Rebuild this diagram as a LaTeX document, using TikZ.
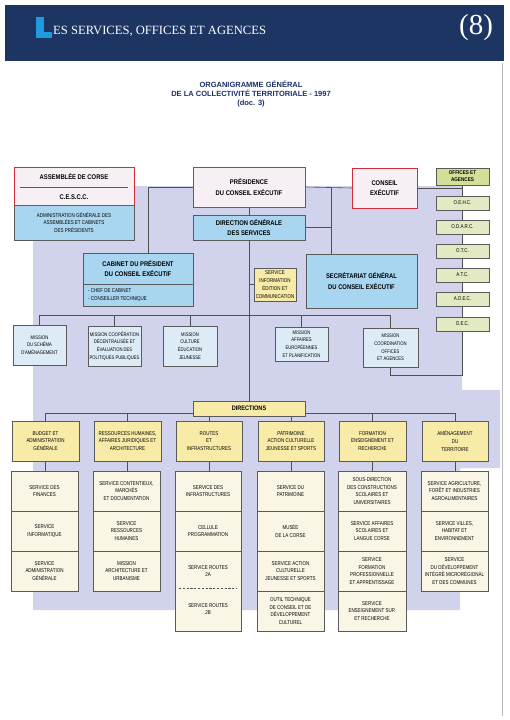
\documentclass[tikz,border=0pt]{standalone}
\usepackage{fontspec}
\setmainfont{Liberation Sans}
\newfontfamily\cond[FakeStretch=0.8]{Liberation Sans}
\newfontfamily\condb[FakeStretch=0.86]{Liberation Sans}
\newfontfamily\hserif{Liberation Serif}
\definecolor{navy}{HTML}{1C3563}
\definecolor{lblue}{HTML}{1D9BE0}
\definecolor{titlec}{HTML}{1B2F6B}
\definecolor{lav}{HTML}{D1D3EC}
\definecolor{redc}{HTML}{D42A3A}
\definecolor{pinkc}{HTML}{F6F0F5}
\definecolor{bluec}{HTML}{A8D5EF}
\definecolor{misc}{HTML}{DCEBF6}
\definecolor{yelc}{HTML}{F8EBA8}
\definecolor{creamc}{HTML}{FAF6E6}
\definecolor{greenc}{HTML}{E2EAC4}
\definecolor{greenh}{HTML}{D2DF98}
\definecolor{bordc}{HTML}{5A5A5A}
\definecolor{lnc}{HTML}{505050}
\newcommand\ftsmall{\cond\fontsize{5.6}{7.8}\selectfont}
\newcommand\ftmis{\cond\fontsize{5.2}{7.6}\selectfont}
\newcommand\ftbold{\condb\bfseries\fontsize{6.8}{10.5}\selectfont}
\newcommand\bx[7]{%
 \pgfmathsetmacro\bw{#5-#3}\pgfmathsetmacro\bh{#6-#4}%
 \pgfmathsetmacro\bcx{(#3+#5)/2}\pgfmathsetmacro\bcy{(#4+#6)/2}%
 \node[#1, minimum width=\bw pt, minimum height=\bh pt] (#2) at (\bcx,\bcy) {#7};}
\pgfdeclarelayer{lavl}
\pgfdeclarelayer{bg}
\pgfsetlayers{lavl,bg,main}
\begin{document}
\begin{tikzpicture}[x=1pt,y=-1pt,
  base/.style={inner sep=0pt, outer sep=0pt, align=center, line width=0.6pt, draw=bordc},
  redbox/.style={base, draw=redc, line width=0.9pt, fill=pinkc, font=\ftbold},
  bluebox/.style={base, fill=bluec, font=\ftbold},
  blues/.style={base, fill=bluec, font=\ftsmall},
  misbox/.style={base, fill=misc, font=\ftmis},
  yelbox/.style={base, fill=yelc, font=\ftsmall},
  dirsbox/.style={base, fill=yelc, font=\condb\bfseries\fontsize{6.5}{8}\selectfont},
  svcbox/.style={base, fill=creamc, line width=0.7pt, font=\ftsmall},
  offbox/.style={base, fill=greenc, font=\ftsmall},
  offhead/.style={base, fill=greenh, font=\condb\bfseries\fontsize{5.4}{7}\selectfont},
  txt/.style={inner sep=0pt, align=center},
  ln/.style={draw=lnc, line width=0.6pt}]
\begin{pgfonlayer}{lavl}
\useasboundingbox (0,0) rectangle (509,720);
\fill[white] (0,0) rectangle (509,720);
% lavender background
\fill[lav] (33,186) -- (462,186) -- (462,390) -- (500,390) -- (500,468) -- (460,468) -- (460,610) -- (33,610) -- cycle;
\end{pgfonlayer}
% header band
\fill[navy] (5,5) rectangle (504,61);
\fill[lblue] (36,17) rectangle (43.5,38);
\fill[lblue] (36,32) rectangle (52,38);
\node[anchor=base west, inner sep=0pt, text=white, font=\hserif\fontsize{12.6}{12.6}\selectfont] (htitle) at (53,34) {ES SERVICES, OFFICES ET AGENCES};
\node[inner sep=0pt, text=white, font=\hserif\fontsize{29}{29}\selectfont] (hnum) at (476,28) {(8)};
% page fold line
\draw[gray!55, line width=1pt] (502,63) -- (502,716);
% title
\node[txt, text=titlec, font=\bfseries\fontsize{7.5}{9}\selectfont] (title) at (251,94) {ORGANIGRAMME GÉNÉRAL\\DE LA COLLECTIVITÉ TERRITORIALE - 1997\\(doc. 3)};
% junction coordinates
\coordinate (sp) at (249,0);
\coordinate (cabj) at (148,0);
\coordinate (sgj) at (331,0);
\coordinate (mbar) at (0,315);
\coordinate (dbar) at (0,413);
% top boxes
\bx{blues}{adm}{14}{205}{134}{240}{ADMINISTRATION GÉNÉRALE DES\\ASSEMBLÉES ET CABINETS\\DES PRÉSIDENTS}
\bx{redbox}{asm}{14}{167}{134}{205}{}
\draw[bordc, line width=0.6pt] (20,187) -- (128,187);
\node[txt, font=\ftbold] (asmt) at (74,177) {ASSEMBLÉE DE CORSE};
\node[txt, font=\ftbold] (cescc) at (74,197) {C.E.S.C.C.};
\bx{redbox}{pres}{193}{167}{305}{207}{PRÉSIDENCE\\DU CONSEIL EXÉCUTIF}
\bx{bluebox}{dg}{193}{215}{305}{240}{DIRECTION GÉNÉRALE\\DES SERVICES}
\bx{redbox}{cons}{352}{168}{417}{208}{CONSEIL\\EXÉCUTIF}
\bx{bluebox}{cab}{83}{253}{193}{306}{}
\node[txt, font=\ftbold] (cabt) at (138,268.5) {CABINET DU PRÉSIDENT\\DU CONSEIL EXÉCUTIF};
\draw[bordc, line width=0.6pt] (83,284) -- (193,284);
\node[inner sep=0pt, align=left, anchor=west, font=\ftsmall] (cabb) at (88,295) {- CHEF DE CABINET\\- CONSEILLER TECHNIQUE};
\bx{yelbox}{svc}{254}{268}{296}{301}{SERVICE\\INFORMATION\\ÉDITION ET\\COMMUNICATION}
\bx{bluebox}{sec}{306}{254}{417}{308}{SECRÉTARIAT GÉNÉRAL\\DU CONSEIL EXÉCUTIF}
% offices
\bx{offhead}{o0}{436}{168}{489}{185}{OFFICES ET\\AGENCES}
\bx{offbox}{o1}{436}{196}{489}{210}{O.E.H.C.}
\bx{offbox}{o2}{436}{220}{489}{234}{O.D.A.R.C.}
\bx{offbox}{o3}{436}{244}{489}{258}{O.T.C.}
\bx{offbox}{o4}{436}{268}{489}{282}{A.T.C.}
\bx{offbox}{o5}{436}{292}{489}{306}{A.D.E.C.}
\bx{offbox}{o6}{436}{317}{489}{331}{O.E.C.}
% missions
\bx{misbox}{m1}{13}{325}{66}{365}{MISSION\\DU SCHÉMA\\D'AMÉNAGEMENT}
\bx{misbox}{m2}{88}{326}{141}{366}{MISSION COOPÉRATION\\DÉCENTRALISÉE ET\\ÉVALUATION DES\\POLITIQUES PUBLIQUES}
\bx{misbox}{m3}{163}{326}{217}{366}{MISSION\\CULTURE\\ÉDUCATION\\JEUNESSE}
\bx{misbox}{m4}{275}{327}{328}{361}{MISSION\\AFFAIRES\\EUROPÉENNES\\ET PLANIFICATION}
\bx{misbox}{m5}{363}{328}{418}{367}{MISSION\\COORDINATION\\OFFICES\\ET AGENCES}
% directions
\bx{dirsbox}{dirs}{193}{401}{305}{416}{DIRECTIONS}
\bx{yelbox}{d1}{12}{421}{79}{461}{BUDGET ET\\ADMINISTRATION\\GÉNÉRALE}
\bx{yelbox}{d2}{94}{421}{161}{461}{RESSOURCES HUMAINES,\\AFFAIRES JURIDIQUES ET\\ARCHITECTURE}
\bx{yelbox}{d3}{176}{421}{242}{461}{ROUTES\\ET\\INFRASTRUCTURES}
\bx{yelbox}{d4}{258}{421}{324}{461}{PATRIMOINE\\ACTION CULTURELLE\\JEUNESSE ET SPORTS}
\bx{yelbox}{d5}{339}{421}{406}{461}{FORMATION\\ENSEIGNEMENT ET\\RECHERCHE}
\bx{yelbox}{d6}{422}{421}{488}{461}{AMÉNAGEMENT\\DU\\TERRITOIRE}
% services
\bx{svcbox}{s11}{11}{471}{78}{511}{SERVICE DES\\FINANCES}
\bx{svcbox}{s12}{11}{511}{78}{551}{SERVICE\\INFORMATIQUE}
\bx{svcbox}{s13}{11}{551}{78}{591}{SERVICE\\ADMINISTRATION\\GÉNÉRALE}
\bx{svcbox}{s21}{93}{471}{160}{511}{SERVICE CONTENTIEUX,\\MARCHÉS\\ET DOCUMENTATION}
\bx{svcbox}{s22}{93}{511}{160}{551}{SERVICE\\RESSOURCES\\HUMAINES}
\bx{svcbox}{s23}{93}{551}{160}{591}{MISSION\\ARCHITECTURE ET\\URBANISME}
\bx{svcbox}{s31}{175}{471}{241}{511}{SERVICE DES\\INFRASTRUCTURES}
\bx{svcbox}{s32}{175}{511}{241}{551}{CELLULE\\PROGRAMMATION}
\bx{svcbox}{s33}{175}{551}{241}{631}{}
\node[txt, font=\ftsmall] (s33a) at (208,571) {SERVICE ROUTES\\2A};
\draw[lnc, line width=0.9pt, dash pattern=on 2.2pt off 1.6pt] (179,588) -- (237,588);
\node[txt, font=\ftsmall] (s33b) at (208,609) {SERVICE ROUTES\\2B};
\bx{svcbox}{s41}{257}{471}{324}{511}{SERVICE DU\\PATRIMOINE}
\bx{svcbox}{s42}{257}{511}{324}{551}{MUSÉE\\DE LA CORSE}
\bx{svcbox}{s43}{257}{551}{324}{591}{SERVICE ACTION\\CULTURELLE\\JEUNESSE ET SPORTS}
\bx{svcbox}{s44}{257}{591}{324}{631}{OUTIL TECHNIQUE\\DE CONSEIL ET DE\\DÉVELOPPEMENT\\CULTUREL}
\bx{svcbox}{s51}{338}{471}{406}{511}{SOUS-DIRECTION\\DES CONSTRUCTIONS\\SCOLAIRES ET\\UNIVERSITAIRES}
\bx{svcbox}{s52}{338}{511}{406}{551}{SERVICE AFFAIRES\\SCOLAIRES ET\\LANGUE CORSE}
\bx{svcbox}{s53}{338}{551}{406}{591}{SERVICE\\FORMATION\\PROFESSIONNELLE\\ET APPRENTISSAGE}
\bx{svcbox}{s54}{338}{591}{406}{631}{SERVICE\\ENSEIGNEMENT SUP.\\ET RECHERCHE}
\bx{svcbox}{s61}{421}{471}{488}{511}{SERVICE AGRICULTURE,\\FORÊT ET INDUSTRIES\\AGROALIMENTAIRES}
\bx{svcbox}{s62}{421}{511}{488}{551}{SERVICE VILLES,\\HABITAT ET\\ENVIRONNEMENT}
\bx{svcbox}{s63}{421}{551}{488}{591}{SERVICE\\DU DÉVELOPPEMENT\\INTÉGRÉ MICRORÉGIONAL\\ET DES COMMUNES}
% connectors
\begin{pgfonlayer}{bg}
\draw[ln] (pres.south -| sp) -- (dg.north -| sp);
\draw[ln] (dg.south -| sp) -- (dirs.north -| sp);
\draw[ln] (pres.west) -| (cabj |- cab.north);
\draw[ln] (pres.east) -- (cons.west);
\draw[ln] (cons.east) -- (cons.east -| o0.south);
\draw[ln] (o0.south) -- (o6.south);
\draw[ln] (pres.east -| sgj) -- (sec.north -| sgj);
\draw[ln] (dg.east) -- (dg.east -| sgj);
\draw[ln] (svc.west) -- (svc.west -| sp);
\draw[ln] (m1.north) -- (m1.north |- mbar) -- (m5.north |- mbar) -- (m5.north);
\draw[ln] (m2.north) -- (m2.north |- mbar);
\draw[ln] (m3.north) -- (m3.north |- mbar);
\draw[ln] (m4.north) -- (m4.north |- mbar);
\draw[ln] (m5.south) -- ++(0,8) -| (o6.south);
\draw[ln] (d1.north) -- (d1.north |- dbar) -- (d6.north |- dbar) -- (d6.north);
\draw[ln] (d2.north) -- (d2.north |- dbar);
\draw[ln] (d3.north) -- (d3.north |- dbar);
\draw[ln] (d4.north) -- (d4.north |- dbar);
\draw[ln] (d5.north) -- (d5.north |- dbar);
\draw[ln] (d1.south) -- (d1.south |- s11.north);
\draw[ln] (d2.south) -- (d2.south |- s21.north);
\draw[ln] (d3.south) -- (d3.south |- s31.north);
\draw[ln] (d4.south) -- (d4.south |- s41.north);
\draw[ln] (d5.south) -- (d5.south |- s51.north);
\draw[ln] (d6.south) -- (d6.south |- s61.north);
\end{pgfonlayer}
\end{tikzpicture}
\end{document}
